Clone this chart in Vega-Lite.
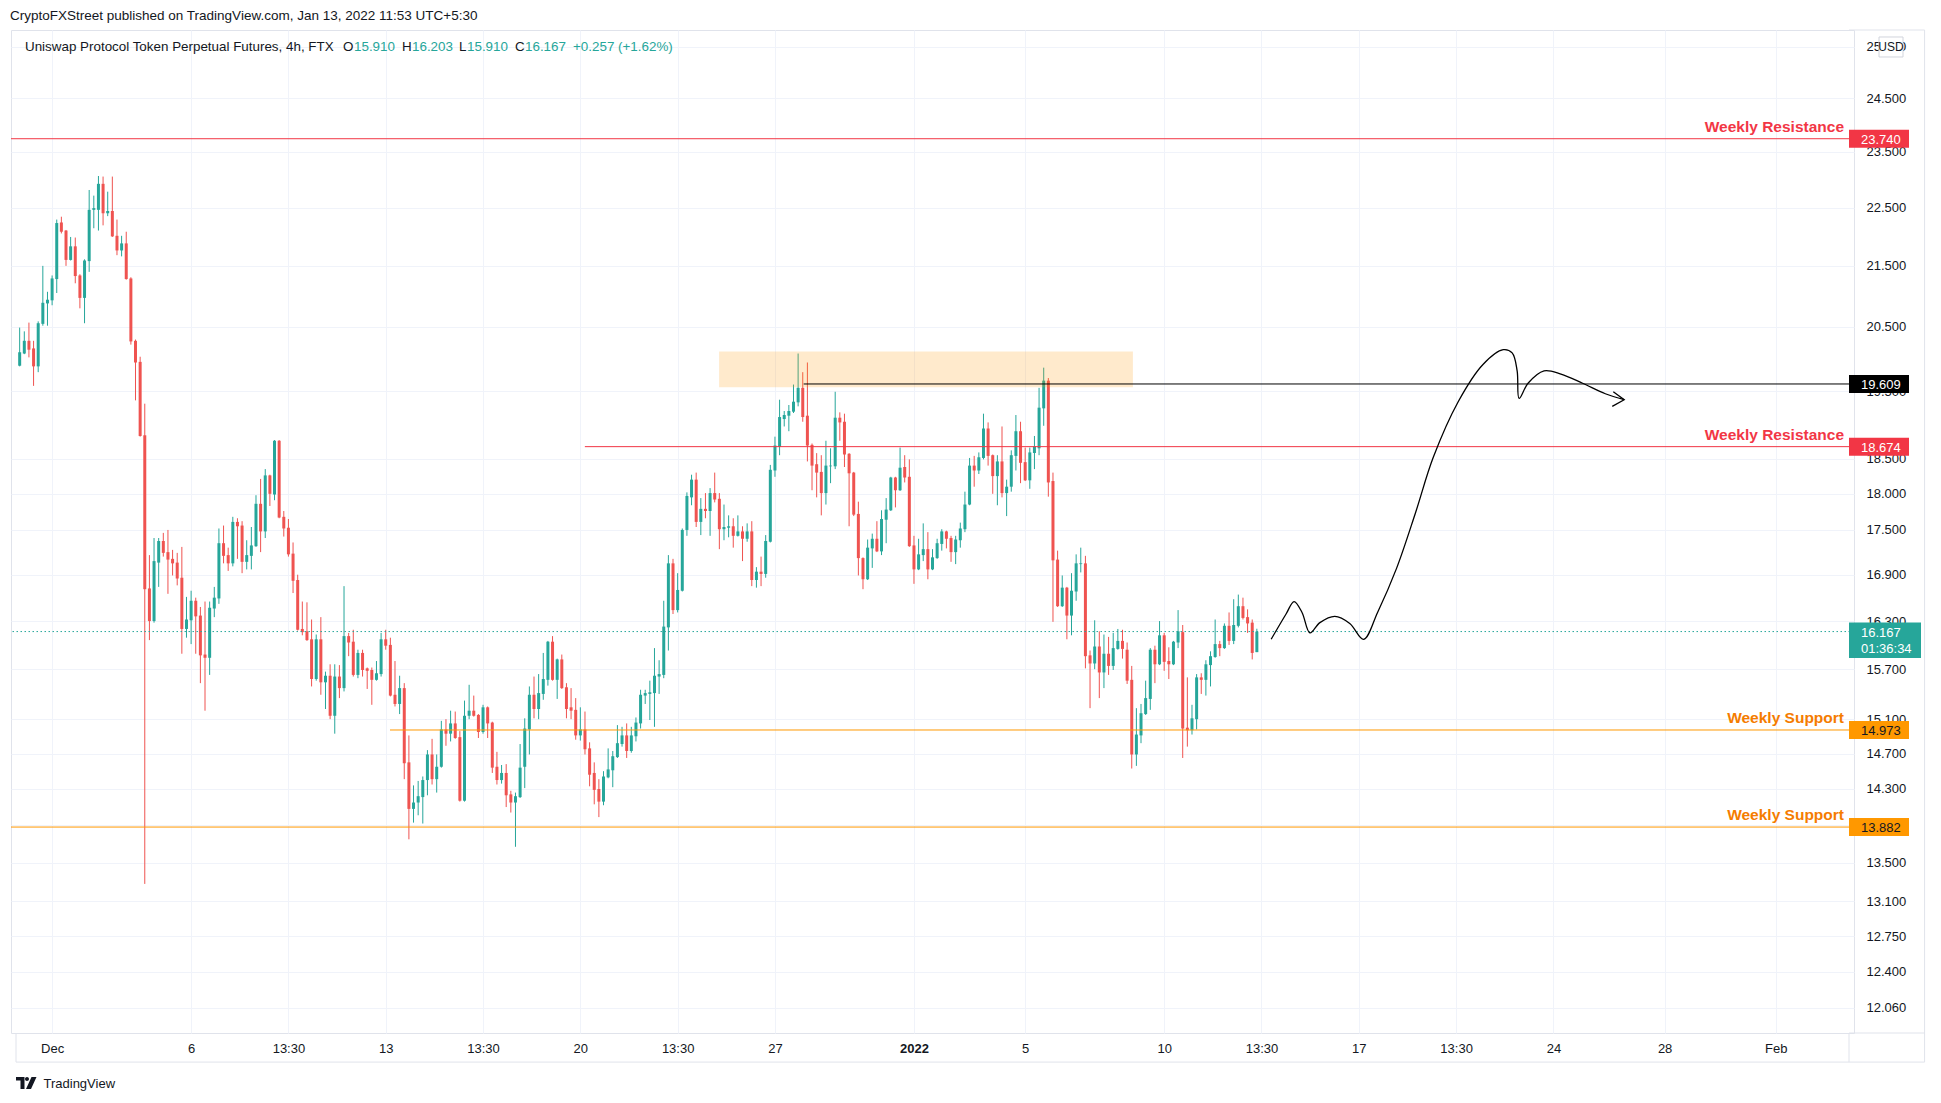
{
"$schema": "https://vega.github.io/schema/vega-lite/v6.json",
"width": 1843,
"height": 1003,
"autosize": {"type": "none"},
"padding": {"left": 11, "top": 30, "right": 87, "bottom": 70},
"background": "#ffffff",
"title": {"text": "CryptoFXStreet published on TradingView.com, Jan 13, 2022 11:53 UTC+5:30", "anchor": "start", "frame": "group", "dx": -1, "offset": 7, "fontSize": 13.5, "font": "Liberation Sans", "fontWeight": "normal", "color": "#131722"},
"config": {"view": {"stroke": "#e0e3eb", "strokeWidth": 1}, "font": "Liberation Sans"},
"datasets": {
"candles": [
{"t":"2021-11-29T21:30Z","o":19.89,"h":20.49,"l":19.88,"c":20.10},
{"t":"2021-11-30T01:30Z","o":20.08,"h":20.43,"l":20.07,"c":20.28},
{"t":"2021-11-30T05:30Z","o":20.28,"h":20.57,"l":20.02,"c":20.14},
{"t":"2021-11-30T09:30Z","o":20.16,"h":20.28,"l":19.58,"c":19.88},
{"t":"2021-11-30T13:30Z","o":19.88,"h":20.59,"l":19.79,"c":20.56},
{"t":"2021-11-30T17:30Z","o":20.55,"h":21.50,"l":20.52,"c":20.89},
{"t":"2021-11-30T21:30Z","o":20.88,"h":21.07,"l":20.52,"c":20.94},
{"t":"2021-12-01T01:30Z","o":20.93,"h":21.34,"l":20.85,"c":21.29},
{"t":"2021-12-01T05:30Z","o":21.28,"h":22.29,"l":21.05,"c":22.23},
{"t":"2021-12-01T09:30Z","o":22.24,"h":22.34,"l":22.05,"c":22.08},
{"t":"2021-12-01T13:30Z","o":22.10,"h":22.11,"l":21.50,"c":21.60},
{"t":"2021-12-01T17:30Z","o":21.60,"h":21.99,"l":21.59,"c":21.83},
{"t":"2021-12-01T21:30Z","o":21.83,"h":21.98,"l":21.21,"c":21.33},
{"t":"2021-12-02T01:30Z","o":21.34,"h":21.36,"l":20.80,"c":20.97},
{"t":"2021-12-02T05:30Z","o":20.97,"h":21.61,"l":20.56,"c":21.59},
{"t":"2021-12-02T09:30Z","o":21.58,"h":22.81,"l":21.40,"c":22.46},
{"t":"2021-12-02T13:30Z","o":22.46,"h":22.71,"l":22.14,"c":22.49},
{"t":"2021-12-02T17:30Z","o":22.46,"h":23.06,"l":22.10,"c":22.92},
{"t":"2021-12-02T21:30Z","o":22.92,"h":23.05,"l":22.19,"c":22.40},
{"t":"2021-12-03T01:30Z","o":22.40,"h":22.78,"l":22.35,"c":22.44},
{"t":"2021-12-03T05:30Z","o":22.44,"h":23.05,"l":21.99,"c":22.00},
{"t":"2021-12-03T09:30Z","o":22.01,"h":22.29,"l":21.68,"c":21.76},
{"t":"2021-12-03T13:30Z","o":21.76,"h":22.01,"l":21.66,"c":21.88},
{"t":"2021-12-03T17:30Z","o":21.88,"h":22.08,"l":21.27,"c":21.28},
{"t":"2021-12-03T21:30Z","o":21.29,"h":21.31,"l":20.22,"c":20.27},
{"t":"2021-12-04T01:30Z","o":20.28,"h":20.30,"l":19.36,"c":19.94},
{"t":"2021-12-04T05:30Z","o":19.95,"h":20.03,"l":18.82,"c":18.83},
{"t":"2021-12-04T09:30Z","o":18.84,"h":19.31,"l":13.28,"c":16.71},
{"t":"2021-12-04T13:30Z","o":16.72,"h":17.16,"l":16.06,"c":16.30},
{"t":"2021-12-04T17:30Z","o":16.30,"h":17.39,"l":16.28,"c":17.08},
{"t":"2021-12-04T21:30Z","o":17.06,"h":17.39,"l":16.74,"c":17.35},
{"t":"2021-12-05T01:30Z","o":17.35,"h":17.46,"l":17.14,"c":17.19},
{"t":"2021-12-05T05:30Z","o":17.20,"h":17.50,"l":16.65,"c":17.10},
{"t":"2021-12-05T09:30Z","o":17.11,"h":17.23,"l":16.89,"c":17.05},
{"t":"2021-12-05T13:30Z","o":17.06,"h":17.19,"l":16.76,"c":16.85},
{"t":"2021-12-05T17:30Z","o":16.86,"h":17.27,"l":15.89,"c":16.20},
{"t":"2021-12-05T21:30Z","o":16.20,"h":16.61,"l":16.09,"c":16.32},
{"t":"2021-12-06T01:30Z","o":16.31,"h":16.69,"l":16.01,"c":16.56},
{"t":"2021-12-06T05:30Z","o":16.56,"h":16.60,"l":15.89,"c":16.36},
{"t":"2021-12-06T09:30Z","o":16.37,"h":16.48,"l":15.53,"c":15.87},
{"t":"2021-12-06T13:30Z","o":15.88,"h":16.55,"l":15.20,"c":15.84},
{"t":"2021-12-06T17:30Z","o":15.84,"h":16.55,"l":15.63,"c":16.47},
{"t":"2021-12-06T21:30Z","o":16.46,"h":16.74,"l":16.35,"c":16.60},
{"t":"2021-12-07T01:30Z","o":16.59,"h":17.52,"l":16.52,"c":17.32},
{"t":"2021-12-07T05:30Z","o":17.32,"h":17.56,"l":17.05,"c":17.15},
{"t":"2021-12-07T09:30Z","o":17.16,"h":17.26,"l":16.95,"c":17.05},
{"t":"2021-12-07T13:30Z","o":17.05,"h":17.68,"l":17.01,"c":17.61},
{"t":"2021-12-07T17:30Z","o":17.61,"h":17.66,"l":17.11,"c":17.55},
{"t":"2021-12-07T21:30Z","o":17.56,"h":17.62,"l":16.92,"c":17.07},
{"t":"2021-12-08T01:30Z","o":17.07,"h":17.36,"l":16.97,"c":17.16},
{"t":"2021-12-08T05:30Z","o":17.15,"h":17.54,"l":16.97,"c":17.29},
{"t":"2021-12-08T09:30Z","o":17.28,"h":17.98,"l":17.27,"c":17.86},
{"t":"2021-12-08T13:30Z","o":17.86,"h":18.21,"l":17.20,"c":17.48},
{"t":"2021-12-08T17:30Z","o":17.48,"h":18.35,"l":17.39,"c":18.26},
{"t":"2021-12-08T21:30Z","o":18.26,"h":18.27,"l":17.83,"c":18.00},
{"t":"2021-12-09T01:30Z","o":17.99,"h":18.77,"l":17.91,"c":18.76},
{"t":"2021-12-09T05:30Z","o":18.76,"h":18.77,"l":17.66,"c":17.67},
{"t":"2021-12-09T09:30Z","o":17.68,"h":17.76,"l":17.41,"c":17.52},
{"t":"2021-12-09T13:30Z","o":17.53,"h":17.65,"l":17.14,"c":17.17},
{"t":"2021-12-09T17:30Z","o":17.18,"h":17.33,"l":16.66,"c":16.82},
{"t":"2021-12-09T21:30Z","o":16.83,"h":16.90,"l":16.18,"c":16.19},
{"t":"2021-12-10T01:30Z","o":16.20,"h":16.55,"l":16.12,"c":16.16},
{"t":"2021-12-10T05:30Z","o":16.17,"h":16.54,"l":16.05,"c":16.06},
{"t":"2021-12-10T09:30Z","o":16.07,"h":16.32,"l":15.49,"c":15.58},
{"t":"2021-12-10T13:30Z","o":15.58,"h":16.13,"l":15.56,"c":16.07},
{"t":"2021-12-10T17:30Z","o":16.07,"h":16.35,"l":15.39,"c":15.54},
{"t":"2021-12-10T21:30Z","o":15.54,"h":15.67,"l":15.22,"c":15.62},
{"t":"2021-12-11T01:30Z","o":15.62,"h":15.76,"l":15.10,"c":15.14},
{"t":"2021-12-11T05:30Z","o":15.14,"h":15.76,"l":14.93,"c":15.61},
{"t":"2021-12-11T09:30Z","o":15.61,"h":15.75,"l":15.35,"c":15.47},
{"t":"2021-12-11T13:30Z","o":15.47,"h":16.75,"l":15.43,"c":16.11},
{"t":"2021-12-11T17:30Z","o":16.11,"h":16.15,"l":15.86,"c":16.03},
{"t":"2021-12-11T21:30Z","o":16.04,"h":16.19,"l":15.61,"c":15.63},
{"t":"2021-12-12T01:30Z","o":15.63,"h":15.94,"l":15.59,"c":15.90},
{"t":"2021-12-12T05:30Z","o":15.90,"h":15.94,"l":15.61,"c":15.69},
{"t":"2021-12-12T09:30Z","o":15.71,"h":15.72,"l":15.46,"c":15.68},
{"t":"2021-12-12T13:30Z","o":15.69,"h":15.72,"l":15.27,"c":15.57},
{"t":"2021-12-12T17:30Z","o":15.57,"h":15.80,"l":15.56,"c":15.65},
{"t":"2021-12-12T21:30Z","o":15.64,"h":16.15,"l":15.61,"c":16.07},
{"t":"2021-12-13T01:30Z","o":16.07,"h":16.19,"l":15.94,"c":15.99},
{"t":"2021-12-13T05:30Z","o":16.00,"h":16.09,"l":15.37,"c":15.38},
{"t":"2021-12-13T09:30Z","o":15.39,"h":15.80,"l":15.25,"c":15.28},
{"t":"2021-12-13T13:30Z","o":15.28,"h":15.62,"l":15.16,"c":15.47},
{"t":"2021-12-13T17:30Z","o":15.47,"h":15.53,"l":14.41,"c":14.59},
{"t":"2021-12-13T21:30Z","o":14.60,"h":14.91,"l":13.75,"c":14.08},
{"t":"2021-12-14T01:30Z","o":14.08,"h":14.34,"l":13.93,"c":14.15},
{"t":"2021-12-14T05:30Z","o":14.15,"h":14.39,"l":14.01,"c":14.22},
{"t":"2021-12-14T09:30Z","o":14.21,"h":14.44,"l":13.92,"c":14.40},
{"t":"2021-12-14T13:30Z","o":14.40,"h":14.74,"l":14.23,"c":14.69},
{"t":"2021-12-14T17:30Z","o":14.69,"h":14.87,"l":14.35,"c":14.41},
{"t":"2021-12-14T21:30Z","o":14.41,"h":14.69,"l":14.26,"c":14.55},
{"t":"2021-12-15T01:30Z","o":14.55,"h":15.08,"l":14.54,"c":14.98},
{"t":"2021-12-15T05:30Z","o":14.98,"h":15.10,"l":14.79,"c":14.93},
{"t":"2021-12-15T09:30Z","o":14.93,"h":15.20,"l":14.84,"c":15.05},
{"t":"2021-12-15T13:30Z","o":15.05,"h":15.19,"l":14.87,"c":14.88},
{"t":"2021-12-15T17:30Z","o":14.89,"h":14.96,"l":14.16,"c":14.17},
{"t":"2021-12-15T21:30Z","o":14.17,"h":15.32,"l":14.16,"c":15.14},
{"t":"2021-12-16T01:30Z","o":15.14,"h":15.51,"l":15.10,"c":15.20},
{"t":"2021-12-16T05:30Z","o":15.20,"h":15.38,"l":15.13,"c":15.14},
{"t":"2021-12-16T09:30Z","o":15.15,"h":15.16,"l":14.88,"c":14.95},
{"t":"2021-12-16T13:30Z","o":14.95,"h":15.27,"l":14.93,"c":15.24},
{"t":"2021-12-16T17:30Z","o":15.24,"h":15.25,"l":14.88,"c":15.05},
{"t":"2021-12-16T21:30Z","o":15.06,"h":15.07,"l":14.48,"c":14.54},
{"t":"2021-12-17T01:30Z","o":14.55,"h":14.72,"l":14.35,"c":14.40},
{"t":"2021-12-17T05:30Z","o":14.40,"h":14.57,"l":14.36,"c":14.48},
{"t":"2021-12-17T09:30Z","o":14.48,"h":14.58,"l":14.10,"c":14.23},
{"t":"2021-12-17T13:30Z","o":14.24,"h":14.28,"l":14.04,"c":14.15},
{"t":"2021-12-17T17:30Z","o":14.15,"h":14.26,"l":13.67,"c":14.22},
{"t":"2021-12-17T21:30Z","o":14.21,"h":14.81,"l":14.20,"c":14.54},
{"t":"2021-12-18T01:30Z","o":14.55,"h":15.11,"l":14.31,"c":14.99},
{"t":"2021-12-18T05:30Z","o":14.98,"h":15.49,"l":14.69,"c":15.39},
{"t":"2021-12-18T09:30Z","o":15.39,"h":15.61,"l":15.11,"c":15.22},
{"t":"2021-12-18T13:30Z","o":15.22,"h":15.64,"l":15.10,"c":15.41},
{"t":"2021-12-18T17:30Z","o":15.40,"h":15.90,"l":15.33,"c":15.58},
{"t":"2021-12-18T21:30Z","o":15.57,"h":16.05,"l":15.50,"c":16.04},
{"t":"2021-12-19T01:30Z","o":16.04,"h":16.11,"l":15.56,"c":15.57},
{"t":"2021-12-19T05:30Z","o":15.57,"h":15.83,"l":15.34,"c":15.82},
{"t":"2021-12-19T09:30Z","o":15.82,"h":15.88,"l":15.46,"c":15.47},
{"t":"2021-12-19T13:30Z","o":15.48,"h":15.53,"l":15.11,"c":15.22},
{"t":"2021-12-19T17:30Z","o":15.24,"h":15.47,"l":15.10,"c":15.20},
{"t":"2021-12-19T21:30Z","o":15.21,"h":15.35,"l":14.86,"c":14.91},
{"t":"2021-12-20T01:30Z","o":14.91,"h":15.24,"l":14.85,"c":14.98},
{"t":"2021-12-20T05:30Z","o":14.98,"h":15.19,"l":14.69,"c":14.75},
{"t":"2021-12-20T09:30Z","o":14.76,"h":14.83,"l":14.33,"c":14.46},
{"t":"2021-12-20T13:30Z","o":14.48,"h":14.60,"l":14.13,"c":14.29},
{"t":"2021-12-20T17:30Z","o":14.30,"h":14.41,"l":13.99,"c":14.16},
{"t":"2021-12-20T21:30Z","o":14.16,"h":14.50,"l":14.12,"c":14.44},
{"t":"2021-12-21T01:30Z","o":14.43,"h":14.76,"l":14.42,"c":14.52},
{"t":"2021-12-21T05:30Z","o":14.51,"h":14.73,"l":14.32,"c":14.67},
{"t":"2021-12-21T09:30Z","o":14.66,"h":15.03,"l":14.65,"c":14.82},
{"t":"2021-12-21T13:30Z","o":14.81,"h":15.01,"l":14.78,"c":14.91},
{"t":"2021-12-21T17:30Z","o":14.91,"h":15.05,"l":14.65,"c":14.73},
{"t":"2021-12-21T21:30Z","o":14.73,"h":15.01,"l":14.71,"c":14.91},
{"t":"2021-12-22T01:30Z","o":14.90,"h":15.12,"l":14.84,"c":15.06},
{"t":"2021-12-22T05:30Z","o":15.05,"h":15.45,"l":14.99,"c":15.39},
{"t":"2021-12-22T09:30Z","o":15.38,"h":15.45,"l":15.28,"c":15.41},
{"t":"2021-12-22T13:30Z","o":15.40,"h":15.56,"l":15.09,"c":15.42},
{"t":"2021-12-22T17:30Z","o":15.41,"h":15.96,"l":15.01,"c":15.62},
{"t":"2021-12-22T21:30Z","o":15.61,"h":15.81,"l":15.40,"c":15.64},
{"t":"2021-12-23T01:30Z","o":15.63,"h":16.56,"l":15.59,"c":16.23},
{"t":"2021-12-23T05:30Z","o":16.22,"h":17.16,"l":15.93,"c":17.05},
{"t":"2021-12-23T09:30Z","o":17.05,"h":17.11,"l":16.39,"c":16.44},
{"t":"2021-12-23T13:30Z","o":16.44,"h":16.92,"l":16.41,"c":16.70},
{"t":"2021-12-23T17:30Z","o":16.69,"h":17.52,"l":16.68,"c":17.50},
{"t":"2021-12-23T21:30Z","o":17.50,"h":18.02,"l":17.42,"c":17.97},
{"t":"2021-12-24T01:30Z","o":17.95,"h":18.27,"l":17.84,"c":18.20},
{"t":"2021-12-24T05:30Z","o":18.20,"h":18.30,"l":17.54,"c":17.61},
{"t":"2021-12-24T09:30Z","o":17.61,"h":17.94,"l":17.43,"c":17.79},
{"t":"2021-12-24T13:30Z","o":17.79,"h":18.01,"l":17.66,"c":17.76},
{"t":"2021-12-24T17:30Z","o":17.76,"h":18.08,"l":17.42,"c":18.01},
{"t":"2021-12-24T21:30Z","o":18.01,"h":18.30,"l":17.88,"c":17.92},
{"t":"2021-12-25T01:30Z","o":17.93,"h":18.01,"l":17.24,"c":17.51},
{"t":"2021-12-25T05:30Z","o":17.51,"h":17.85,"l":17.36,"c":17.54},
{"t":"2021-12-25T09:30Z","o":17.53,"h":17.70,"l":17.40,"c":17.55},
{"t":"2021-12-25T13:30Z","o":17.55,"h":17.66,"l":17.26,"c":17.42},
{"t":"2021-12-25T17:30Z","o":17.42,"h":17.70,"l":17.41,"c":17.48},
{"t":"2021-12-25T21:30Z","o":17.48,"h":17.55,"l":17.08,"c":17.38},
{"t":"2021-12-26T01:30Z","o":17.38,"h":17.59,"l":17.34,"c":17.48},
{"t":"2021-12-26T05:30Z","o":17.48,"h":17.62,"l":16.75,"c":16.83},
{"t":"2021-12-26T09:30Z","o":16.83,"h":17.00,"l":16.73,"c":16.94},
{"t":"2021-12-26T13:30Z","o":16.94,"h":17.14,"l":16.75,"c":16.91},
{"t":"2021-12-26T17:30Z","o":16.91,"h":17.43,"l":16.86,"c":17.35},
{"t":"2021-12-26T21:30Z","o":17.34,"h":18.41,"l":17.33,"c":18.34},
{"t":"2021-12-27T01:30Z","o":18.33,"h":18.82,"l":18.24,"c":18.69},
{"t":"2021-12-27T05:30Z","o":18.67,"h":19.37,"l":18.55,"c":19.11},
{"t":"2021-12-27T09:30Z","o":19.08,"h":19.20,"l":18.97,"c":19.14},
{"t":"2021-12-27T13:30Z","o":19.13,"h":19.29,"l":18.90,"c":19.20},
{"t":"2021-12-27T17:30Z","o":19.19,"h":19.60,"l":19.17,"c":19.34},
{"t":"2021-12-27T21:30Z","o":19.33,"h":20.08,"l":19.27,"c":19.55},
{"t":"2021-12-28T01:30Z","o":19.55,"h":19.79,"l":19.04,"c":19.11},
{"t":"2021-12-28T05:30Z","o":19.13,"h":19.94,"l":18.46,"c":18.69},
{"t":"2021-12-28T09:30Z","o":18.70,"h":18.72,"l":18.05,"c":18.40},
{"t":"2021-12-28T13:30Z","o":18.42,"h":18.58,"l":17.95,"c":18.30},
{"t":"2021-12-28T17:30Z","o":18.31,"h":18.55,"l":17.70,"c":18.01},
{"t":"2021-12-28T21:30Z","o":18.01,"h":18.76,"l":17.85,"c":18.40},
{"t":"2021-12-29T01:30Z","o":18.39,"h":18.65,"l":18.15,"c":18.40},
{"t":"2021-12-29T05:30Z","o":18.39,"h":19.49,"l":18.35,"c":19.10},
{"t":"2021-12-29T09:30Z","o":19.10,"h":19.18,"l":18.76,"c":19.03},
{"t":"2021-12-29T13:30Z","o":19.04,"h":19.16,"l":18.38,"c":18.56},
{"t":"2021-12-29T17:30Z","o":18.57,"h":18.58,"l":17.55,"c":18.29},
{"t":"2021-12-29T21:30Z","o":18.30,"h":18.31,"l":17.69,"c":17.71},
{"t":"2021-12-30T01:30Z","o":17.72,"h":17.89,"l":16.89,"c":17.12},
{"t":"2021-12-30T05:30Z","o":17.12,"h":17.13,"l":16.71,"c":16.84},
{"t":"2021-12-30T09:30Z","o":16.84,"h":17.37,"l":16.83,"c":17.26},
{"t":"2021-12-30T13:30Z","o":17.25,"h":17.45,"l":16.99,"c":17.38},
{"t":"2021-12-30T17:30Z","o":17.38,"h":17.62,"l":17.20,"c":17.21},
{"t":"2021-12-30T21:30Z","o":17.21,"h":17.77,"l":17.16,"c":17.65},
{"t":"2021-12-31T01:30Z","o":17.64,"h":17.94,"l":17.32,"c":17.78},
{"t":"2021-12-31T05:30Z","o":17.77,"h":18.24,"l":17.76,"c":18.23},
{"t":"2021-12-31T09:30Z","o":18.23,"h":18.24,"l":17.81,"c":18.05},
{"t":"2021-12-31T13:30Z","o":18.05,"h":18.66,"l":18.04,"c":18.37},
{"t":"2021-12-31T17:30Z","o":18.38,"h":18.55,"l":18.16,"c":18.23},
{"t":"2021-12-31T21:30Z","o":18.24,"h":18.49,"l":17.27,"c":17.28},
{"t":"2022-01-01T01:30Z","o":17.29,"h":17.42,"l":16.78,"c":16.97},
{"t":"2022-01-01T05:30Z","o":16.97,"h":17.38,"l":16.96,"c":17.17},
{"t":"2022-01-01T09:30Z","o":17.16,"h":17.59,"l":17.08,"c":17.24},
{"t":"2022-01-01T13:30Z","o":17.24,"h":17.47,"l":16.84,"c":16.97},
{"t":"2022-01-01T17:30Z","o":16.97,"h":17.24,"l":16.96,"c":17.13},
{"t":"2022-01-01T21:30Z","o":17.12,"h":17.38,"l":17.11,"c":17.32},
{"t":"2022-01-02T01:30Z","o":17.31,"h":17.51,"l":17.22,"c":17.48},
{"t":"2022-01-02T05:30Z","o":17.48,"h":17.49,"l":17.25,"c":17.38},
{"t":"2022-01-02T09:30Z","o":17.39,"h":17.42,"l":17.07,"c":17.20},
{"t":"2022-01-02T13:30Z","o":17.20,"h":17.42,"l":17.04,"c":17.37},
{"t":"2022-01-02T17:30Z","o":17.36,"h":17.60,"l":17.26,"c":17.52},
{"t":"2022-01-02T21:30Z","o":17.51,"h":18.03,"l":17.47,"c":17.85},
{"t":"2022-01-03T01:30Z","o":17.85,"h":18.51,"l":17.84,"c":18.40},
{"t":"2022-01-03T05:30Z","o":18.40,"h":18.54,"l":18.10,"c":18.33},
{"t":"2022-01-03T09:30Z","o":18.33,"h":18.59,"l":18.28,"c":18.52},
{"t":"2022-01-03T13:30Z","o":18.51,"h":19.16,"l":18.49,"c":18.94},
{"t":"2022-01-03T17:30Z","o":18.94,"h":19.03,"l":18.40,"c":18.54},
{"t":"2022-01-03T21:30Z","o":18.55,"h":18.56,"l":18.00,"c":18.25},
{"t":"2022-01-04T01:30Z","o":18.25,"h":18.55,"l":17.84,"c":18.46},
{"t":"2022-01-04T05:30Z","o":18.46,"h":18.97,"l":17.95,"c":18.01},
{"t":"2022-01-04T09:30Z","o":18.01,"h":18.20,"l":17.69,"c":18.10},
{"t":"2022-01-04T13:30Z","o":18.10,"h":18.62,"l":18.03,"c":18.55},
{"t":"2022-01-04T17:30Z","o":18.54,"h":19.14,"l":18.33,"c":18.90},
{"t":"2022-01-04T21:30Z","o":18.90,"h":19.04,"l":18.15,"c":18.44},
{"t":"2022-01-05T01:30Z","o":18.45,"h":18.66,"l":18.18,"c":18.19},
{"t":"2022-01-05T05:30Z","o":18.19,"h":18.66,"l":18.07,"c":18.59},
{"t":"2022-01-05T09:30Z","o":18.58,"h":18.83,"l":18.35,"c":18.68},
{"t":"2022-01-05T13:30Z","o":18.65,"h":19.55,"l":18.55,"c":19.25},
{"t":"2022-01-05T17:30Z","o":19.24,"h":19.86,"l":18.98,"c":19.66},
{"t":"2022-01-05T21:30Z","o":19.66,"h":19.70,"l":17.96,"c":18.16},
{"t":"2022-01-06T01:30Z","o":18.18,"h":18.30,"l":16.29,"c":17.09},
{"t":"2022-01-06T05:30Z","o":17.10,"h":17.22,"l":16.48,"c":16.49},
{"t":"2022-01-06T09:30Z","o":16.49,"h":16.89,"l":16.48,"c":16.73},
{"t":"2022-01-06T13:30Z","o":16.73,"h":16.74,"l":16.07,"c":16.37},
{"t":"2022-01-06T17:30Z","o":16.37,"h":16.92,"l":16.12,"c":16.69},
{"t":"2022-01-06T21:30Z","o":16.68,"h":17.17,"l":16.56,"c":17.05},
{"t":"2022-01-07T01:30Z","o":17.04,"h":17.26,"l":16.93,"c":17.05},
{"t":"2022-01-07T05:30Z","o":17.05,"h":17.15,"l":15.71,"c":15.86},
{"t":"2022-01-07T09:30Z","o":15.87,"h":15.93,"l":15.23,"c":15.77},
{"t":"2022-01-07T13:30Z","o":15.77,"h":16.31,"l":15.70,"c":15.98},
{"t":"2022-01-07T17:30Z","o":15.98,"h":16.17,"l":15.35,"c":15.66},
{"t":"2022-01-07T21:30Z","o":15.66,"h":16.13,"l":15.47,"c":15.89},
{"t":"2022-01-08T01:30Z","o":15.89,"h":16.10,"l":15.63,"c":15.74},
{"t":"2022-01-08T05:30Z","o":15.74,"h":16.15,"l":15.69,"c":15.96},
{"t":"2022-01-08T09:30Z","o":15.95,"h":16.20,"l":15.94,"c":16.05},
{"t":"2022-01-08T13:30Z","o":16.05,"h":16.19,"l":15.83,"c":15.95},
{"t":"2022-01-08T17:30Z","o":15.94,"h":16.03,"l":15.52,"c":15.56},
{"t":"2022-01-08T21:30Z","o":15.57,"h":15.74,"l":14.53,"c":14.69},
{"t":"2022-01-09T01:30Z","o":14.69,"h":15.23,"l":14.56,"c":14.92},
{"t":"2022-01-09T05:30Z","o":14.91,"h":15.28,"l":14.82,"c":15.17},
{"t":"2022-01-09T09:30Z","o":15.16,"h":15.56,"l":15.15,"c":15.35},
{"t":"2022-01-09T13:30Z","o":15.34,"h":15.96,"l":15.21,"c":15.94},
{"t":"2022-01-09T17:30Z","o":15.94,"h":15.99,"l":15.53,"c":15.76},
{"t":"2022-01-09T21:30Z","o":15.76,"h":16.30,"l":15.75,"c":16.12},
{"t":"2022-01-10T01:30Z","o":16.12,"h":16.15,"l":15.68,"c":15.79},
{"t":"2022-01-10T05:30Z","o":15.80,"h":15.97,"l":15.58,"c":15.76},
{"t":"2022-01-10T09:30Z","o":15.76,"h":16.05,"l":15.75,"c":16.04},
{"t":"2022-01-10T13:30Z","o":16.03,"h":16.44,"l":15.96,"c":16.17},
{"t":"2022-01-10T17:30Z","o":16.16,"h":16.25,"l":14.65,"c":14.99},
{"t":"2022-01-10T21:30Z","o":15.00,"h":15.60,"l":14.78,"c":14.97},
{"t":"2022-01-11T01:30Z","o":14.97,"h":15.27,"l":14.92,"c":15.11},
{"t":"2022-01-11T05:30Z","o":15.10,"h":15.64,"l":14.98,"c":15.60},
{"t":"2022-01-11T09:30Z","o":15.60,"h":15.65,"l":15.40,"c":15.57},
{"t":"2022-01-11T13:30Z","o":15.57,"h":15.81,"l":15.38,"c":15.76},
{"t":"2022-01-11T17:30Z","o":15.75,"h":15.92,"l":15.49,"c":15.86},
{"t":"2022-01-11T21:30Z","o":15.85,"h":16.32,"l":15.84,"c":16.01},
{"t":"2022-01-12T01:30Z","o":16.01,"h":16.05,"l":15.86,"c":15.96},
{"t":"2022-01-12T05:30Z","o":15.96,"h":16.27,"l":15.95,"c":16.24},
{"t":"2022-01-12T09:30Z","o":16.24,"h":16.41,"l":16.00,"c":16.05},
{"t":"2022-01-12T13:30Z","o":16.05,"h":16.58,"l":16.01,"c":16.25},
{"t":"2022-01-12T17:30Z","o":16.24,"h":16.64,"l":16.22,"c":16.49},
{"t":"2022-01-12T21:30Z","o":16.49,"h":16.60,"l":16.32,"c":16.34},
{"t":"2022-01-13T01:30Z","o":16.35,"h":16.45,"l":16.15,"c":16.27},
{"t":"2022-01-13T05:30Z","o":16.28,"h":16.32,"l":15.82,"c":15.90},
{"t":"2022-01-13T09:30Z","o":15.91,"h":16.203,"l":15.91,"c":16.167}
],
"levels": [
{"p": 23.74, "kind": "res", "name": "Weekly Resistance"},
{"p": 18.674, "kind": "res", "name": "Weekly Resistance", "from": "2021-12-20T05:24Z"},
{"p": 19.609, "kind": "key", "from": "2021-12-28T02:18Z"},
{"p": 14.973, "kind": "sup", "name": "Weekly Support", "from": "2021-12-13T05:12Z"},
{"p": 13.882, "kind": "sup", "name": "Weekly Support"}
],
"path": [
{"s":"p","n":1,"t":"2022-01-13T21:51Z","p":16.07},
{"s":"p","n":2,"t":"2022-01-14T10:43Z","p":16.39},
{"s":"p","n":3,"t":"2022-01-14T17:36Z","p":16.55},
{"s":"p","n":4,"t":"2022-01-15T00:30Z","p":16.41},
{"s":"p","n":5,"t":"2022-01-15T07:20Z","p":16.15},
{"s":"p","n":6,"t":"2022-01-15T15:55Z","p":16.28},
{"s":"p","n":7,"t":"2022-01-16T04:48Z","p":16.36},
{"s":"p","n":8,"t":"2022-01-16T17:42Z","p":16.27},
{"s":"p","n":9,"t":"2022-01-17T05:42Z","p":16.07},
{"s":"p","n":10,"t":"2022-01-17T17:42Z","p":16.41},
{"s":"p","n":11,"t":"2022-01-18T10:00Z","p":16.98},
{"s":"p","n":12,"t":"2022-01-19T02:20Z","p":17.73},
{"s":"p","n":13,"t":"2022-01-19T17:48Z","p":18.52},
{"s":"p","n":14,"t":"2022-01-20T15:18Z","p":19.34},
{"s":"p","n":15,"t":"2022-01-21T12:42Z","p":19.91},
{"s":"p","n":16,"t":"2022-01-22T06:12Z","p":20.14},
{"s":"p","n":17,"t":"2022-01-22T13:54Z","p":20.09},
{"s":"p","n":18,"t":"2022-01-22T18:12Z","p":19.81},
{"s":"p","n":19,"t":"2022-01-22T19:54Z","p":19.39},
{"s":"p","n":20,"t":"2022-01-23T03:36Z","p":19.62},
{"s":"p","n":21,"t":"2022-01-23T17:24Z","p":19.81},
{"s":"p","n":22,"t":"2022-01-24T08:00Z","p":19.76},
{"s":"p","n":23,"t":"2022-01-25T02:42Z","p":19.62},
{"s":"p","n":24,"t":"2022-01-25T22:18Z","p":19.46},
{"s":"p","n":25,"t":"2022-01-26T14:36Z","p":19.37},
{"s":"a","n":1,"t":"2022-01-26T05:12Z","p":19.49},
{"s":"a","n":2,"t":"2022-01-26T14:36Z","p":19.37},
{"s":"a","n":3,"t":"2022-01-26T04:18Z","p":19.27}
]
},
"layer": [
{"data": {"name": "candles"},
 "mark": {"type": "rule", "strokeWidth": 1},
 "encoding": {
  "x": {"field": "t", "type": "temporal",
        "scale": {"type": "utc", "domain": [{"year": 2021, "month": "Nov", "date": 29, "hours": 18, "minutes": 20, "utc": true}, {"year": 2022, "month": "Feb", "date": 3, "hours": 16, "minutes": 40, "utc": true}], "nice": false},
        "axis": {"title": "TradingView", "titleX": 32, "titleY": 50, "titleAlign": "left", "titleAnchor": "start", "titleBaseline": "middle", "titleFontSize": 13, "titleFontWeight": "normal", "titleColor": "#131722", "titleFont": "Liberation Sans",
                 "values": [
                  {"year": 2021, "month": "Dec", "date": 1, "hours": 1, "minutes": 30, "utc": true},
                  {"year": 2021, "month": "Dec", "date": 6, "hours": 1, "minutes": 30, "utc": true},
                  {"year": 2021, "month": "Dec", "date": 9, "hours": 13, "minutes": 30, "utc": true},
                  {"year": 2021, "month": "Dec", "date": 13, "hours": 1, "minutes": 30, "utc": true},
                  {"year": 2021, "month": "Dec", "date": 16, "hours": 13, "minutes": 30, "utc": true},
                  {"year": 2021, "month": "Dec", "date": 20, "hours": 1, "minutes": 30, "utc": true},
                  {"year": 2021, "month": "Dec", "date": 23, "hours": 13, "minutes": 30, "utc": true},
                  {"year": 2021, "month": "Dec", "date": 27, "hours": 1, "minutes": 30, "utc": true},
                  {"year": 2022, "month": "Jan", "date": 1, "hours": 1, "minutes": 30, "utc": true},
                  {"year": 2022, "month": "Jan", "date": 5, "hours": 1, "minutes": 30, "utc": true},
                  {"year": 2022, "month": "Jan", "date": 10, "hours": 1, "minutes": 30, "utc": true},
                  {"year": 2022, "month": "Jan", "date": 13, "hours": 13, "minutes": 30, "utc": true},
                  {"year": 2022, "month": "Jan", "date": 17, "hours": 1, "minutes": 30, "utc": true},
                  {"year": 2022, "month": "Jan", "date": 20, "hours": 13, "minutes": 30, "utc": true},
                  {"year": 2022, "month": "Jan", "date": 24, "hours": 1, "minutes": 30, "utc": true},
                  {"year": 2022, "month": "Jan", "date": 28, "hours": 1, "minutes": 30, "utc": true},
                  {"year": 2022, "month": "Feb", "date": 1, "hours": 1, "minutes": 30, "utc": true}
                 ],
                 "labelExpr": "utchours(datum.value) == 13 ? '13:30' : (utcdate(datum.value) == 1 ? (utcmonth(datum.value) == 0 ? utcFormat(datum.value, '%Y') : utcFormat(datum.value, '%b')) : utcFormat(datum.value, '%-d'))",
                 "labelFontWeight": {"condition": {"test": "utcmonth(datum.value) == 0 && utcdate(datum.value) == 1", "value": "bold"}, "value": "normal"},
                 "grid": true, "gridColor": "#f0f3fa", "gridWidth": 1, "domain": false, "ticks": false,
                 "labelColor": "#131722", "labelFontSize": 13, "labelFont": "Liberation Sans", "labelPadding": 9,
                 "labelOverlap": false, "labelFlush": false, "labelBound": false}},
  "y": {"field": "l", "type": "quantitative",
        "scale": {"type": "log", "domain": [11.823, 25.84], "nice": false, "zero": false},
        "axis": {"orient": "right", "title": null, "values": [12.06, 12.4, 12.75, 13.1, 13.5, 13.9, 14.3, 14.7, 15.1, 15.7, 16.3, 16.9, 17.5, 18, 18.5, 19.5, 20.5, 21.5, 22.5, 23.5, 24.5, 25.5],
                 "format": ".3f", "grid": true, "gridColor": "#f0f3fa", "gridWidth": 1, "domain": false, "ticks": false,
                 "labelColor": "#131722", "labelFontSize": 13, "labelFont": "Liberation Sans", "labelPadding": 12, "labelAlign": "left",
                 "labelOverlap": false, "labelFlush": false, "labelBound": false}},
  "y2": {"field": "h"},
  "color": {"condition": {"test": "datum.c >= datum.o", "value": "#26a69a"}, "value": "#ef5350"}
 }},
{"data": {"name": "candles"},
 "mark": {"type": "bar", "width": 3},
 "encoding": {
  "x": {"field": "t", "type": "temporal"},
  "y": {"field": "o", "type": "quantitative"},
  "y2": {"field": "c"},
  "color": {"condition": {"test": "datum.c >= datum.o", "value": "#26a69a"}, "value": "#ef5350"}
 }},
{"data": {"values": [{"t1": "2021-12-25T01:18Z", "t2": "2022-01-08T22:30Z", "p1": 19.56, "p2": 20.11}]},
 "mark": {"type": "rect", "color": "#ff9800", "opacity": 0.2},
 "encoding": {
  "x": {"field": "t1", "type": "temporal"},
  "x2": {"field": "t2"},
  "y": {"field": "p1", "type": "quantitative"},
  "y2": {"field": "p2"}
 }},
{"data": {"name": "levels"},
 "transform": [{"filter": "datum.from == null"}],
 "mark": {"type": "rule", "strokeWidth": 1},
 "encoding": {
  "y": {"field": "p", "type": "quantitative"},
  "color": {"condition": [{"test": "datum.kind == 'res'", "value": "#f23645"}, {"test": "datum.kind == 'key'", "value": "#000000"}], "value": "#ff9800"}
 }},
{"data": {"name": "levels"},
 "transform": [{"filter": "datum.from != null"}],
 "mark": {"type": "rule", "strokeWidth": 1},
 "encoding": {
  "x": {"field": "from", "type": "temporal"},
  "x2": {"datum": {"year": 2022, "month": "Feb", "date": 3, "hours": 16, "minutes": 40, "utc": true}},
  "y": {"field": "p", "type": "quantitative"},
  "color": {"condition": [{"test": "datum.kind == 'res'", "value": "#f23645"}, {"test": "datum.kind == 'key'", "value": "#000000"}], "value": "#ff9800"}
 }},
{"data": {"values": [{"p": 16.167}]},
 "mark": {"type": "rule", "color": "#26a69a", "strokeWidth": 1, "strokeDash": [1.5, 2.5]},
 "encoding": {"y": {"field": "p", "type": "quantitative"}}},
{"data": {"name": "path"},
 "transform": [{"filter": "datum.s == 'p'"}],
 "mark": {"type": "line", "color": "#000000", "strokeWidth": 1.3, "interpolate": "catmull-rom"},
 "encoding": {
  "x": {"field": "t", "type": "temporal"},
  "y": {"field": "p", "type": "quantitative"},
  "order": {"field": "n", "type": "quantitative"}
 }},
{"data": {"name": "path"},
 "transform": [{"filter": "datum.s == 'a'"}],
 "mark": {"type": "line", "color": "#000000", "strokeWidth": 1.3},
 "encoding": {
  "x": {"field": "t", "type": "temporal"},
  "y": {"field": "p", "type": "quantitative"},
  "order": {"field": "n", "type": "quantitative"}
 }},
{"data": {"name": "levels"},
 "transform": [{"filter": "datum.name != null"}],
 "mark": {"type": "text", "align": "right", "baseline": "alphabetic", "dx": -5, "dy": -7, "fontSize": 15.5, "fontWeight": "bold", "font": "Liberation Sans"},
 "encoding": {
  "x": {"datum": {"year": 2022, "month": "Feb", "date": 3, "hours": 16, "minutes": 40, "utc": true}, "type": "temporal"},
  "y": {"field": "p", "type": "quantitative"},
  "text": {"field": "name"},
  "color": {"condition": {"test": "datum.kind == 'res'", "value": "#f23645"}, "value": "#f57c00"}
 }},
{"data": {"name": "levels"},
 "mark": {"type": "point", "shape": "M0,-0.3H2V0.3H0Z", "size": 3600, "filled": true, "opacity": 1, "strokeWidth": 0},
 "encoding": {
  "x": {"datum": {"year": 2022, "month": "Feb", "date": 3, "hours": 16, "minutes": 40, "utc": true}, "type": "temporal"},
  "y": {"field": "p", "type": "quantitative"},
  "color": {"condition": [{"test": "datum.kind == 'res'", "value": "#f23645"}, {"test": "datum.kind == 'key'", "value": "#000000"}], "value": "#ff9800"}
 }},
{"data": {"name": "levels"},
 "mark": {"type": "text", "align": "left", "baseline": "middle", "dx": 12, "dy": 1, "fontSize": 13, "font": "Liberation Sans"},
 "encoding": {
  "x": {"datum": {"year": 2022, "month": "Feb", "date": 3, "hours": 16, "minutes": 40, "utc": true}, "type": "temporal"},
  "y": {"field": "p", "type": "quantitative"},
  "text": {"field": "p", "format": ".3f"},
  "color": {"condition": {"test": "datum.kind == 'sup'", "value": "#131722"}, "value": "#ffffff"}
 }},
{"data": {"values": [{"p": 16.167, "timer": "01:36:34"}]},
 "mark": {"type": "point", "shape": "M0,-0.25H2V0.733H0Z", "size": 5184, "filled": true, "opacity": 1, "strokeWidth": 0, "color": "#26a69a"},
 "encoding": {
  "x": {"datum": {"year": 2022, "month": "Feb", "date": 3, "hours": 16, "minutes": 40, "utc": true}, "type": "temporal"},
  "y": {"field": "p", "type": "quantitative"}
 }},
{"data": {"values": [{"p": 16.167, "timer": "01:36:34"}]},
 "mark": {"type": "text", "align": "left", "baseline": "middle", "dx": 12, "dy": 1, "fontSize": 13, "font": "Liberation Sans", "color": "#ffffff"},
 "encoding": {
  "x": {"datum": {"year": 2022, "month": "Feb", "date": 3, "hours": 16, "minutes": 40, "utc": true}, "type": "temporal"},
  "y": {"field": "p", "type": "quantitative"},
  "text": {"field": "p", "format": ".3f"}
 }},
{"data": {"values": [{"p": 16.167, "timer": "01:36:34"}]},
 "mark": {"type": "text", "align": "left", "baseline": "middle", "dx": 12, "dy": 17, "fontSize": 13, "font": "Liberation Sans", "color": "#ffffff"},
 "encoding": {
  "x": {"datum": {"year": 2022, "month": "Feb", "date": 3, "hours": 16, "minutes": 40, "utc": true}, "type": "temporal"},
  "y": {"field": "p", "type": "quantitative"},
  "text": {"field": "timer"}
 }},
{"data": {"values": [{"p": 25.5}]},
 "mark": {"type": "point", "shape": "M2.0,-0.667H3.6V0.667H2.0Z", "size": 900, "filled": false, "fill": "#ffffff", "stroke": "#d1d4dc", "strokeWidth": 1, "opacity": 1},
 "encoding": {
  "x": {"datum": {"year": 2022, "month": "Feb", "date": 3, "hours": 16, "minutes": 40, "utc": true}, "type": "temporal"},
  "y": {"field": "p", "type": "quantitative"}
 }},
{"data": {"values": [{"p": 25.5}]},
 "mark": {"type": "text", "text": "USD", "align": "center", "baseline": "middle", "dx": 42, "fontSize": 12, "font": "Liberation Sans", "color": "#131722"},
 "encoding": {
  "x": {"datum": {"year": 2022, "month": "Feb", "date": 3, "hours": 16, "minutes": 40, "utc": true}, "type": "temporal"},
  "y": {"field": "p", "type": "quantitative"}
 }},
{"data": {"values": [{}]},
 "mark": {"type": "text", "text": "Uniswap Protocol Token Perpetual Futures, 4h, FTX", "align": "left", "baseline": "middle", "dx": 9, "dy": 17, "fontSize": 13.4, "font": "Liberation Sans", "color": "#131722"},
 "encoding": {"x": {"datum": {"year": 2021, "month": "Nov", "date": 29, "hours": 18, "minutes": 20, "utc": true}, "type": "temporal"}, "y": {"datum": 25.84, "type": "quantitative"}}},
{"data": {"values": [{}]},
 "mark": {"type": "text", "text": "O", "align": "left", "baseline": "middle", "dx": 327, "dy": 17, "fontSize": 13.4, "font": "Liberation Sans", "color": "#131722"},
 "encoding": {"x": {"datum": {"year": 2021, "month": "Nov", "date": 29, "hours": 18, "minutes": 20, "utc": true}, "type": "temporal"}, "y": {"datum": 25.84, "type": "quantitative"}}},
{"data": {"values": [{}]},
 "mark": {"type": "text", "text": "15.910", "align": "left", "baseline": "middle", "dx": 338, "dy": 17, "fontSize": 13.4, "font": "Liberation Sans", "color": "#26a69a"},
 "encoding": {"x": {"datum": {"year": 2021, "month": "Nov", "date": 29, "hours": 18, "minutes": 20, "utc": true}, "type": "temporal"}, "y": {"datum": 25.84, "type": "quantitative"}}},
{"data": {"values": [{}]},
 "mark": {"type": "text", "text": "H", "align": "left", "baseline": "middle", "dx": 386, "dy": 17, "fontSize": 13.4, "font": "Liberation Sans", "color": "#131722"},
 "encoding": {"x": {"datum": {"year": 2021, "month": "Nov", "date": 29, "hours": 18, "minutes": 20, "utc": true}, "type": "temporal"}, "y": {"datum": 25.84, "type": "quantitative"}}},
{"data": {"values": [{}]},
 "mark": {"type": "text", "text": "16.203", "align": "left", "baseline": "middle", "dx": 396, "dy": 17, "fontSize": 13.4, "font": "Liberation Sans", "color": "#26a69a"},
 "encoding": {"x": {"datum": {"year": 2021, "month": "Nov", "date": 29, "hours": 18, "minutes": 20, "utc": true}, "type": "temporal"}, "y": {"datum": 25.84, "type": "quantitative"}}},
{"data": {"values": [{}]},
 "mark": {"type": "text", "text": "L", "align": "left", "baseline": "middle", "dx": 443, "dy": 17, "fontSize": 13.4, "font": "Liberation Sans", "color": "#131722"},
 "encoding": {"x": {"datum": {"year": 2021, "month": "Nov", "date": 29, "hours": 18, "minutes": 20, "utc": true}, "type": "temporal"}, "y": {"datum": 25.84, "type": "quantitative"}}},
{"data": {"values": [{}]},
 "mark": {"type": "text", "text": "15.910", "align": "left", "baseline": "middle", "dx": 451, "dy": 17, "fontSize": 13.4, "font": "Liberation Sans", "color": "#26a69a"},
 "encoding": {"x": {"datum": {"year": 2021, "month": "Nov", "date": 29, "hours": 18, "minutes": 20, "utc": true}, "type": "temporal"}, "y": {"datum": 25.84, "type": "quantitative"}}},
{"data": {"values": [{}]},
 "mark": {"type": "text", "text": "C", "align": "left", "baseline": "middle", "dx": 499, "dy": 17, "fontSize": 13.4, "font": "Liberation Sans", "color": "#131722"},
 "encoding": {"x": {"datum": {"year": 2021, "month": "Nov", "date": 29, "hours": 18, "minutes": 20, "utc": true}, "type": "temporal"}, "y": {"datum": 25.84, "type": "quantitative"}}},
{"data": {"values": [{}]},
 "mark": {"type": "text", "text": "16.167", "align": "left", "baseline": "middle", "dx": 509, "dy": 17, "fontSize": 13.4, "font": "Liberation Sans", "color": "#26a69a"},
 "encoding": {"x": {"datum": {"year": 2021, "month": "Nov", "date": 29, "hours": 18, "minutes": 20, "utc": true}, "type": "temporal"}, "y": {"datum": 25.84, "type": "quantitative"}}},
{"data": {"values": [{}]},
 "mark": {"type": "text", "text": "+0.257 (+1.62%)", "align": "left", "baseline": "middle", "dx": 557, "dy": 17, "fontSize": 13.4, "font": "Liberation Sans", "color": "#26a69a"},
 "encoding": {"x": {"datum": {"year": 2021, "month": "Nov", "date": 29, "hours": 18, "minutes": 20, "utc": true}, "type": "temporal"}, "y": {"datum": 25.84, "type": "quantitative"}}},
{"data": {"values": [{}]},
 "mark": {"type": "point", "shape": "M0,4.4H0.85V5.6H0.45V4.75H0V4.4Z M0.9,4.6a0.2,0.2 0 1,0 0.4,0a0.2,0.2 0 1,0 -0.4,0Z M1.55,4.4H2.05L1.5,5.6H1.0Z", "size": 400, "filled": true, "opacity": 1, "strokeWidth": 0, "color": "#131722"},
 "encoding": {"x": {"datum": {"year": 2021, "month": "Nov", "date": 29, "hours": 18, "minutes": 20, "utc": true}, "type": "temporal"}, "y": {"datum": 11.823, "type": "quantitative"}}},
{"data": {"values": [{}]},
 "mark": {"type": "rule", "color": "#e0e3eb", "strokeWidth": 1},
 "encoding": {"x": {"datum": {"year": 2022, "month": "Feb", "date": 3, "hours": 16, "minutes": 40, "utc": true}, "type": "temporal"}, "x2": {"datum": {"year": 2022, "month": "Feb", "date": 6, "hours": 9, "minutes": 55, "utc": true}}, "y": {"datum": 25.84, "type": "quantitative"}}},
{"data": {"values": [{}]},
 "mark": {"type": "rule", "color": "#e0e3eb", "strokeWidth": 1},
 "encoding": {"x": {"datum": {"year": 2022, "month": "Feb", "date": 6, "hours": 9, "minutes": 55, "utc": true}, "type": "temporal"}, "y": {"datum": 25.84, "type": "quantitative"}, "y2": {"datum": 11.558}}},
{"data": {"values": [{}]},
 "mark": {"type": "rule", "color": "#e0e3eb", "strokeWidth": 1},
 "encoding": {"x": {"datum": {"year": 2021, "month": "Nov", "date": 29, "hours": 18, "minutes": 20, "utc": true}, "type": "temporal"}, "x2": {"datum": {"year": 2022, "month": "Feb", "date": 6, "hours": 9, "minutes": 55, "utc": true}}, "y": {"datum": 11.558, "type": "quantitative"}}},
{"data": {"values": [{}]},
 "mark": {"type": "rule", "color": "#e0e3eb", "strokeWidth": 1},
 "encoding": {"x": {"datum": {"year": 2022, "month": "Feb", "date": 3, "hours": 16, "minutes": 40, "utc": true}, "type": "temporal"}, "x2": {"datum": {"year": 2022, "month": "Feb", "date": 6, "hours": 9, "minutes": 55, "utc": true}}, "y": {"datum": 11.823, "type": "quantitative"}}},
{"data": {"values": [{}]},
 "mark": {"type": "rule", "color": "#e0e3eb", "strokeWidth": 1},
 "encoding": {"x": {"datum": {"year": 2021, "month": "Nov", "date": 29, "hours": 18, "minutes": 20, "utc": true}, "type": "temporal"}, "y": {"datum": 11.823, "type": "quantitative"}, "y2": {"datum": 11.558}}},
{"data": {"values": [{}]},
 "mark": {"type": "rule", "color": "#e0e3eb", "strokeWidth": 1},
 "encoding": {"x": {"datum": {"year": 2022, "month": "Feb", "date": 3, "hours": 16, "minutes": 40, "utc": true}, "type": "temporal"}, "y": {"datum": 11.823, "type": "quantitative"}, "y2": {"datum": 11.558}}}
]
}
